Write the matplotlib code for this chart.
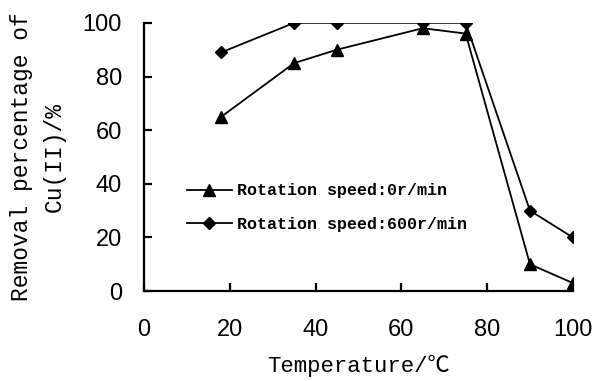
import matplotlib
matplotlib.use('Agg')
import matplotlib.pyplot as plt

temperature = [18, 35, 45, 65, 75, 90, 100]
removal_0rpm = [65, 85, 90, 98, 96, 10, 3]
removal_600rpm = [89, 100, 100, 100, 100, 30, 20]
x_ticks = [0, 20, 40, 60, 80, 100]
y_ticks = [0, 20, 40, 60, 80, 100]

mono = ['Liberation Mono', 'Noto Sans CJK SC', 'DejaVu Sans']

fig = plt.figure(figsize=(5.93, 3.81), dpi=100)
ax = fig.add_axes([0.243, 0.236, 0.723, 0.704])

ax.plot(temperature, removal_0rpm, color='black', lw=1.3, marker='^', ms=8.5,
        label='Rotation speed:0r/min')
ax.plot(temperature, removal_600rpm, color='black', lw=1.3, marker='D', ms=6.5,
        label='Rotation speed:600r/min')

ax.set_xlim(0, 100)
ax.set_ylim(0, 100)
ax.set_xticks(x_ticks)
ax.set_yticks(y_ticks)
ax.spines['top'].set_visible(False)
ax.spines['right'].set_visible(False)
ax.spines['left'].set_linewidth(1.6)
ax.spines['bottom'].set_linewidth(1.6)
ax.tick_params(direction='in', length=6, width=1.6, labelsize=17)
ax.tick_params(axis='x', pad=20)
ax.tick_params(axis='y', pad=16)
for lab in ax.get_xticklabels() + ax.get_yticklabels():
    lab.set_family('Liberation Sans')

ax.set_xlabel('Temperature/℃', family=mono, fontsize=16, labelpad=10)
ax.set_ylabel('Removal percentage of\nCu(II)/%', family=mono, fontsize=16.5,
              labelpad=12, linespacing=1.55)

ax.legend(loc='center left', bbox_to_anchor=(0.1, 0.311), frameon=False,
          prop={'family': mono, 'size': 12, 'weight': 'bold'},
          handlelength=2.7, labelspacing=1.1, handletextpad=0.3,
          borderpad=0, borderaxespad=0)

plt.savefig('out.png', dpi=100)
